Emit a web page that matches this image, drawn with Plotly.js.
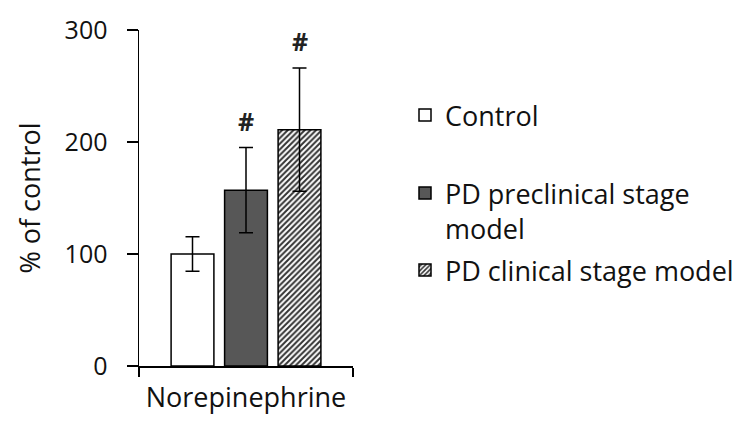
<!DOCTYPE html>
<html>
<head>
<meta charset="utf-8">
<script src="https://cdn.plot.ly/plotly-3.0.1.min.js"></script>
<style>
  body { margin: 0; background: white; }
  #chart { width: 756px; height: 433px; }
</style>
</head>
<body>
<div id="chart"></div>
<script>
// values (% of control)
var categories = ["Norepinephrine"];
var groups = ["Control", "PD preclinical stage<br>model", "PD clinical stage model"];
var means = [100, 157, 211];
var errs = [15.5, 38, 55];
var marks = ["", "#", "#"];

var FONT = "'Open Sans', Lato, sans-serif";
var BARGAP = 0.25;
var GROUPGAP = 0.2;

var styles = [
    { marker: { color: "white", line: { color: "black", width: 1.5 } } },
    { marker: { color: "#575757", line: { color: "black", width: 1.5 } } },
    { marker: { color: "white", line: { color: "black", width: 1.5 },
                pattern: { shape: "/", fgcolor: "#333", bgcolor: "white", size: 4, solidity: 0.5 } } }
];

var traces = [];
for (var i = 0; i < groups.length; i++) {
    traces.push({
        type: "bar",
        x: categories,
        y: [means[i]],
        name: groups[i],
        legend: i == 0 ? "legend" : "legend" + (i + 1),
        marker: styles[i].marker,
        error_y: { type: "data", array: [errs[i]], visible: true, color: "black", thickness: 1.5, width: 7 },
    });
}

// "#" marks above the error bars
var slot = (1 - BARGAP) / groups.length;
var annotations = [];
for (var i = 0; i < groups.length; i++) {
    if (!marks[i]) continue;
    annotations.push({
        x: 0 + (i - (groups.length - 1) / 2) * slot,
        y: means[i] + errs[i],
        xref: "x", yref: "y",
        text: "<b>" + marks[i] + "</b>",
        showarrow: false,
        yanchor: "bottom",
        yshift: 8,
        font: { family: FONT, size: 25, color: "#222" },
    });
}

var legendBase = {
    xref: "container", yref: "container",
    x: 405 / 756, xanchor: "left", yanchor: "top",
    bgcolor: "rgba(0,0,0,0)",
    font: { family: FONT, size: 27, color: "#111" },
    valign: "top",
    itemwidth: 30,
};

var layout = {
    width: 756, height: 433,
    margin: { l: 139, r: 403, t: 30, b: 67 },
    paper_bgcolor: "white",
    plot_bgcolor: "white",
    font: { family: FONT, size: 25, color: "#111" },
    barmode: "group",
    bargap: BARGAP,
    bargroupgap: GROUPGAP,
    showlegend: true,
    legend: Object.assign({}, legendBase, { y: 1 - 91 / 433 }),
    legend2: Object.assign({}, legendBase, { y: 1 - 169 / 433 }),
    legend3: Object.assign({}, legendBase, { y: 1 - 246 / 433 }),
    xaxis: {
        type: "category",
        showline: true, linecolor: "black", linewidth: 1.5,
        ticks: "outside", tickson: "boundaries", ticklen: 9, tickwidth: 1.5, tickcolor: "black",
        ticklabelstandoff: 7,
        tickfont: { family: FONT, size: 27 },
        showgrid: false, zeroline: false,
        fixedrange: true,
    },
    yaxis: {
        range: [0, 300],
        tickvals: [0, 100, 200, 300],
        showline: true, linecolor: "black", linewidth: 1.5,
        ticks: "outside", ticklen: 11, tickwidth: 1.5, tickcolor: "black",
        ticklabelstandoff: 14,
        showgrid: false, zeroline: false,
        title: { text: "% of control", standoff: 16, font: { family: FONT, size: 27 } },
    },
    annotations: annotations,
};

Plotly.newPlot("chart", traces, layout, { displayModeBar: false, staticPlot: true });
</script>
</body>
</html>
